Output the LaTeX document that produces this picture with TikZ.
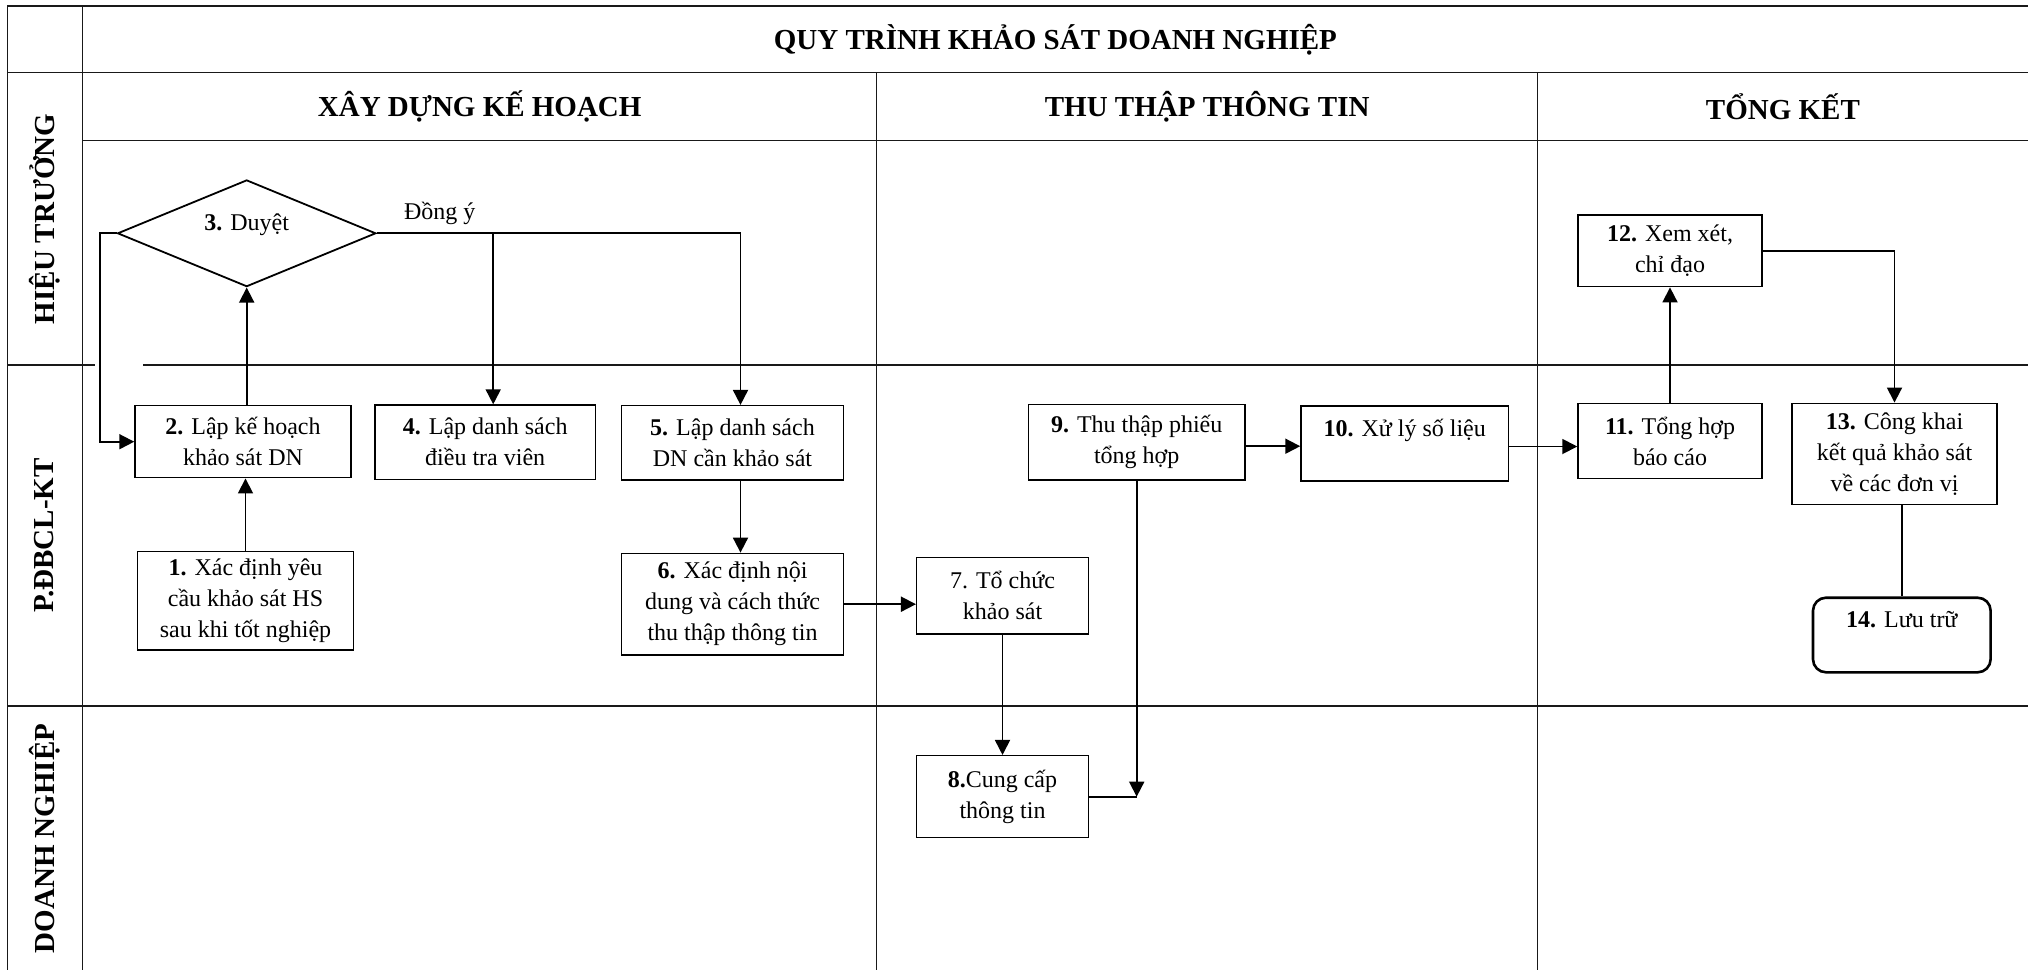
\documentclass[tikz,border=0pt]{standalone}
\usepackage{fontspec}
\setmainfont{Liberation Serif}
\usetikzlibrary{shapes.geometric,arrows.meta,calc}
\begin{document}
\begin{tikzpicture}[x=1pt,y=-1pt,
  grid/.style={line width=1.4pt, black!90},
  box/.style={draw, line width=1.5pt, align=center, inner sep=0pt, font=\fontsize{24}{31}\selectfont},
  arr/.style={line width=1.8pt, -{Triangle[length=15pt,width=15pt]}},
  conn/.style={line width=1.8pt},
  hdr/.style={font=\fontsize{29}{34}\selectfont\bfseries},
  lane/.style={font=\fontsize{29}{34}\selectfont\bfseries, rotate=90},
  plain/.style={font=\fontsize{24}{31}\selectfont},
]
\useasboundingbox (0,0) rectangle (2028,970);
\fill[white] (0,0) rectangle (2028,970);

% grid
\draw[grid] (7.3,6) -- (2028,6);
\draw[grid] (7.3,72.7) -- (2028,72.7);
\draw[grid] (82.7,140.7) -- (2028,140.7);
\draw[grid] (7.3,365) -- (95,365);
\draw[grid] (143.3,365) -- (2028,365);
\draw[grid] (7.3,706) -- (2028,706);
\draw[grid] (7.3,6) -- (7.3,970);
\draw[grid] (82.7,6) -- (82.7,970);
\draw[grid] (876.7,72.7) -- (876.7,970);
\draw[grid] (1537.7,72.7) -- (1537.7,970);

% headers
\node[hdr] (title) at (1055.4,39.5) {QUY TRÌNH KHẢO SÁT DOANH NGHIỆP};
\node[hdr] (ph1) at (479.7,106.5) {XÂY DỰNG KẾ HOẠCH};
\node[hdr] (ph2) at (1207.2,106.5) {THU THẬP THÔNG TIN};
\node[hdr] (ph3) at (1782.9,106.5) {TỔNG KẾT};

% lanes
\node[lane] (l1) at (45,219) {HIỆU TRƯỞNG};
\node[lane] (l2) at (44.5,535.5) {P.ĐBCL-KT};
\node[lane] (l3) at (45,838.5) {DOANH NGHIỆP};

% nodes
\node[box, minimum width=215.6pt, minimum height=98.3pt] (b1) at (245.5,600.8) {\textbf{1.} Xác định yêu\\cầu khảo sát HS\\sau khi tốt nghiệp};
\node[box, minimum width=216pt, minimum height=72pt] (b2) at (243,441.7) {\textbf{2.} Lập kế hoạch\\khảo sát DN};
\node[draw, diamond, line width=1.8pt, inner sep=0pt, minimum width=258.4pt, minimum height=106.7pt,
      label={[plain, yshift=9pt]center:\textbf{3.} Duyệt}] (d3) at (246.7,233.3) {};
\node[box, minimum width=220.3pt, minimum height=74.3pt] (b4) at (485.2,442.2) {\textbf{4.} Lập danh sách\\điều tra viên};
\node[box, minimum width=221.6pt, minimum height=74.3pt] (b5) at (732.5,442.8) {\textbf{5.} Lập danh sách\\DN cần khảo sát};
\node[box, minimum width=221.6pt, minimum height=101.7pt] (b6) at (732.5,604.2) {\textbf{6.} Xác định nội\\dung và cách thức\\thu thập thông tin};
\node[box, minimum width=171.6pt, minimum height=76.3pt] (b7) at (1002.5,595.8) {7. Tổ chức\\khảo sát};
\node[box, minimum width=171.6pt, minimum height=82pt] (b8) at (1002.5,796.7) {\textbf{8.}Cung cấp\\thông tin};
\node[box, minimum width=216.7pt, minimum height=75.7pt] (b9) at (1136.7,442.2) {\textbf{9.} Thu thập phiếu\\tổng hợp};
\node[box, minimum width=207.4pt, minimum height=75pt] (b10) at (1404.7,443.5) {\textbf{10.} Xử lý số liệu\\\mbox{}};
\node[box, minimum width=184pt, minimum height=75.4pt] (b11) at (1670,441) {\textbf{11.} Tổng hợp\\báo cáo};
\node[box, minimum width=184pt, minimum height=71.7pt] (b12) at (1670,250.8) {\textbf{12.} Xem xét,\\chỉ đạo};
\node[box, minimum width=205pt, minimum height=101pt] (b13) at (1894.5,453.8) {\textbf{13.} Công khai\\kết quả khảo sát\\về các đơn vị};
\node[box, line width=2.6pt, rounded corners=13pt, minimum width=177.6pt, minimum height=74.6pt] (b14) at (1901.8,635) {\textbf{14.} Lưu trữ\\\mbox{}};

\node[plain] (dy) at (439.7,213) {Đồng ý};

% connectors
\draw[arr] (b1.north) -- (b1.north |- b2.south);
\draw[arr] (d3.south |- b2.north) -- (d3.south);
\draw[arr] (d3.west) -- ++(-16.6,0) |- (b2.west);
\draw[arr] (d3.east) -| ([xshift=8pt]b5.north);
\draw[arr] ([xshift=8pt]b4.north |- d3.east) -- ([xshift=8pt]b4.north);
\draw[arr] ([xshift=8pt]b5.south) -- ([xshift=8pt]b6.north);
\draw[arr] (b6.east) -- (b6.east -| b7.west);
\draw[arr] (b7.south) -- (b8.north);
\coordinate (j8) at (b9.south |- b8.east);
\draw[conn] (b8.east) -- (j8);
\draw[arr] (b9.south) -- (j8);
\draw[arr] ([yshift=-4pt]b9.east) -- ([yshift=-4pt]b9.east -| b10.west);
\draw[arr] ([yshift=-3pt]b10.east) -- ([yshift=-3pt]b10.east -| b11.west);
\draw[arr] (b11.north) -- (b12.south);
\draw[arr] (b12.east) -| (b13.north);
\draw[conn] (b14.north |- b13.south) -- (b14.north);
\end{tikzpicture}
\end{document}
